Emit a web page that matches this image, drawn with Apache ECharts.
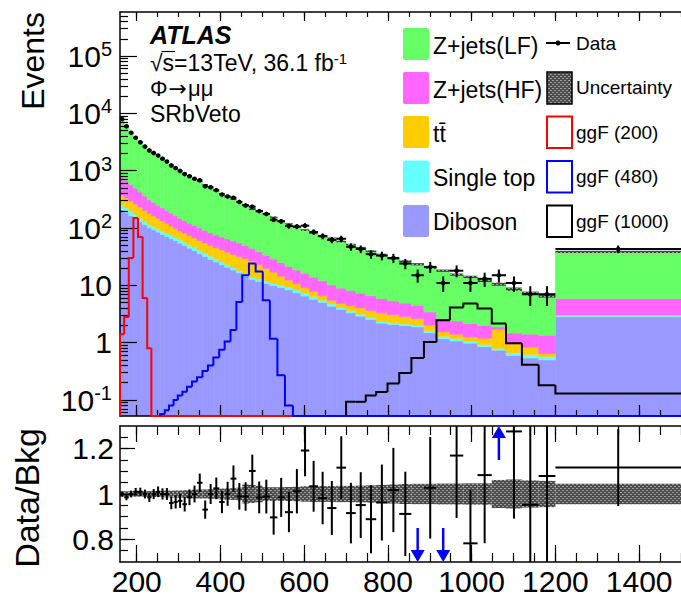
<!DOCTYPE html>
<html><head><meta charset="utf-8">
<script src="https://cdn.jsdelivr.net/npm/echarts@6.0.0/dist/echarts.min.js"></script>
<style>html,body{margin:0;padding:0;background:#fff;}#chart{width:681px;height:596px;}</style>
</head><body><div id="chart"></div>
<script>
// ---------------- data ----------------
const binEdges = [160,170,181,192,203,214,225,235,246,256,267,277,288,298,309,320,332,344,357,370,383,397,410,424,438,452,468,484,501,518,536,554,573,592,612,633,655,677,700,723,747,772,799,827,856,886,916,948,980,1014,1048,1082,1120,1160,1200,1500];
const diboson = [207,185,163,145,128,114,100,92.3,84.5,77.4,71,65,59.6,54.5,49.3,44.5,40,35.6,31.7,28.3,25.5,22.9,20.7,18.5,16.6,14.4,12.7,11.7,10.8,9.9,9.1,8.3,7.4,6.5,5.7,5.0,4.3,3.78,3.31,2.9,2.53,2.19,2.08,1.98,1.88,1.49,1.17,1.07,0.98,0.85,0.74,0.60,0.54,0.50,2.82];
const singleTop = [47,38,33,27,22,18,15,14,12.5,11.5,10.5,9.6,8.8,8,7.3,6.5,5.8,5.4,4.7,4.1,3.4,2.9,2.3,2.0,1.6,1.4,1.3,1.2,1.1,1.1,1.0,1.0,0.9,0.8,0.7,0.5,0.45,0.35,0.29,0.24,0.19,0.15,0.15,0.14,0.14,0.13,0.12,0.11,0.09,0.08,0.05,0.07,0.08,0.075,0.13];
const ttbar = [122,111,98,88,80,71,63,56,50,43,38.5,33.4,29.6,26,24.4,22.8,21.2,19.5,18.2,16.9,16.3,15.6,14.9,14.1,13.4,13.6,12.5,10.1,7.9,6.0,4.4,3.1,2.3,1.8,1.4,1.1,0.75,0.7,0.82,0.89,0.94,0.97,0.84,0.72,0.61,0.41,0.26,0.22,0.19,0.27,0.91,0.28,0.21,0.07,0.10];
const zjetsHF = [400,336,281,233,193,160,131,118,104,93,83,74,65,58.5,53,48.2,44,39.5,36,32.7,30.7,28.6,26.8,25,23.4,20.3,17.7,15.5,13.7,12,10.5,9,7.9,7.0,6.1,5.4,4.7,4.1,3.7,3.28,2.92,2.58,2.31,2.07,1.84,1.41,1.08,0.99,0.90,0.80,0.18,0.52,0.58,0.70,2.84];
const zjetsLF = [7167,5356,3996,3222,2667,2267,1982,1762,1569,1397,1242,1106,985,876,778,691,613,546,484,431,371,328,290,256,233,201,170,161.5,144.5,126,108,96,86.2,76.2,68.3,61.3,55.9,49.3,43.2,37.9,32.8,28.4,24.1,21.4,18.9,17,15.4,13.0,11.9,10.0,8.6,7.15,5.94,5.14,32.6];
const dataEvents = [7940,5936,4571,3752,3121,2630,2257,2042,1838,1622,1445,1237,1108,992,871,801,724,678,535,513,458,384,355,337,285,248,236,197,176,139,131,108,106,110,85,72,62,65,47,43,35,33,30,24,15,21,11,18,11,13,15,11,7,7,43];
const bkgRelUnc = [0.012,0.012,0.012,0.012,0.012,0.012,0.013,0.013,0.013,0.014,0.015,0.015,0.016,0.016,0.017,0.018,0.019,0.02,0.02,0.021,0.022,0.024,0.025,0.026,0.028,0.042,0.04,0.036,0.03,0.03,0.03,0.031,0.032,0.034,0.035,0.035,0.035,0.036,0.036,0.037,0.038,0.04,0.042,0.044,0.045,0.045,0.046,0.046,0.047,0.047,0.062,0.064,0.06,0.058,0.045];
const ggF200 = [1.4,2.8,30,150,70,6,0.8,0,0,0,0,0,0,0,0,0,0,0,0,0,0,0,0,0,0,0,0,0,0,0,0,0,0,0,0,0,0,0,0,0,0,0,0,0,0,0,0,0,0,0,0,0,0,0,0];
const ggF480 = [0,0,0,0,0,0,0,0,0,0.057,0.066,0.08,0.10,0.12,0.14,0.17,0.21,0.25,0.32,0.40,0.55,0.75,1.05,1.66,5.1,15,24,17.5,5.5,1.17,0.27,0.08,0,0,0,0,0,0,0,0,0,0,0,0,0,0,0,0,0,0,0,0,0,0,0];
const ggF1000 = [0,0,0,0,0,0,0,0,0,0,0,0,0,0,0,0,0,0,0,0,0,0,0,0,0,0,0,0,0,0,0,0,0,0,0,0,0,0,0.093,0.093,0.12,0.138,0.195,0.295,0.54,1.03,2.45,4.1,4.8,3.96,2.16,0.98,0.41,0.18,0.13];
const xMajorTicks = [200,400,600,800,1000,1200,1400];
const yMajorTicks = [0.1,1,10,100,1000,10000,100000];
const ratioMajorTicks = [0.8,1,1.2];
const ratioMinorTicks = [0.75,0.8,0.85,0.9,0.95,1,1.05,1.1,1.15,1.2,1.25];

// ---------------- setup ----------------
const FONT = '"Liberation Sans", Arial, Helvetica, sans-serif';
const nBins = binEdges.length - 1;
const yMin = 0.0526, yMax = 5.86e5, rMin = 0.7, rMax = 1.3;
const xMinorTicks = []; for (let v = 200; v <= 1500; v += 50) xMinorTicks.push(v);
const yMinorTicks = [];
for (let e = -2; e <= 5; e++) for (let k = 2; k <= 9; k++) { const v = k * Math.pow(10, e); if (v > yMin && v < yMax) yMinorTicks.push(+v.toPrecision(3)); }

function makeHatch() {
  const c = document.createElement('canvas'); c.width = 4; c.height = 4;
  const g = c.getContext('2d');
  g.fillStyle = 'rgba(25,25,25,0.78)'; g.fillRect(0, 0, 4, 4);
  g.fillStyle = 'rgba(175,175,175,0.85)'; g.fillRect(0, 0, 2, 1); g.fillRect(2, 2, 2, 1);
  return { image: c.toDataURL(), imageWidth: 4, imageHeight: 4, repeat: 'repeat' };
}
const hatch = makeHatch();

const layers = [
  { vals: diboson, color: '#9999ff' },
  { vals: singleTop, color: '#66ffff' },
  { vals: ttbar, color: '#ffcc00' },
  { vals: zjetsHF, color: '#ff66ff' },
  { vals: zjetsLF, color: '#66ff66' }
];
const totalBkg = new Array(nBins).fill(0);

function rectRender(fill, stroke) {
  return function (params, api) {
    const p0 = api.coord([api.value(0), api.value(3)]);
    const p1 = api.coord([api.value(1), api.value(2)]);
    return { type: 'rect', shape: { x: p0[0], y: p0[1], width: p1[0] - p0[0], height: p1[1] - p0[1] },
      style: { fill: fill, stroke: stroke || null, lineWidth: stroke ? 0.6 : 0 } };
  };
}

const series = [];
layers.forEach(l => {
  const items = [];
  for (let i = 0; i < nBins; i++) {
    const base = totalBkg[i];
    totalBkg[i] += l.vals[i];
    items.push([binEdges[i], binEdges[i + 1], Math.max(base, yMin), totalBkg[i]]);
  }
  series.push({ type: 'custom', xAxisIndex: 0, yAxisIndex: 0, z: 2, silent: true, data: items, renderItem: rectRender(l.color, l.color) });
});

// uncertainty band (top)
const bandTop = [], bandRatio = [];
for (let i = 0; i < nBins; i++) {
  const t = totalBkg[i], u = bkgRelUnc[i];
  bandTop.push([binEdges[i], binEdges[i + 1], t * (1 - u), t * (1 + u)]);
  bandRatio.push([binEdges[i], binEdges[i + 1], 1 - u, 1 + u]);
}
series.push({ type: 'custom', xAxisIndex: 0, yAxisIndex: 0, z: 3, silent: true, data: bandTop, renderItem: rectRender(hatch) });

// signals
function signalSeries(vals, color) {
  const items = [];
  let first = vals.findIndex(v => v > 0);
  let prev = yMin;
  for (let i = first; i < nBins; i++) {
    const v = Math.max(vals[i], yMin);
    items.push([binEdges[i], binEdges[i + 1], v, prev]);
    prev = v;
  }
  return { type: 'custom', xAxisIndex: 0, yAxisIndex: 0, z: 12, silent: true, data: items,
    renderItem: function (params, api) {
      const a = api.coord([api.value(0), api.value(3)]);
      const b = api.coord([api.value(0), api.value(2)]);
      const c = api.coord([api.value(1), api.value(2)]);
      return { type: 'polyline', shape: { points: [a, b, c] }, style: { stroke: color, lineWidth: 2, fill: null } };
    } };
}
series.push(signalSeries(ggF1000, '#000000'));
series.push(signalSeries(ggF200, '#ff0000'));
series.push(signalSeries(ggF480, '#0000ff'));

// data points (top)
const dataItems = [];
for (let i = 0; i < nBins; i++) dataItems.push([(binEdges[i] + binEdges[i + 1]) / 2, dataEvents[i], binEdges[i], binEdges[i + 1]]);
series.push({ type: 'custom', xAxisIndex: 0, yAxisIndex: 0, z: 13, silent: true, data: dataItems,
  renderItem: function (params, api) {
    const x = api.value(0), n = api.value(1), e = Math.sqrt(n);
    const c = api.coord([x, n]);
    const l = api.coord([api.value(2), n]), h = api.coord([api.value(3), n]);
    const t = api.coord([x, Math.min(n + e, yMax)]), b = api.coord([x, Math.max(n - e, yMin)]);
    return { type: 'group', children: [
      { type: 'line', shape: { x1: l[0], y1: c[1], x2: h[0], y2: c[1] }, style: { stroke: '#000', lineWidth: 2 } },
      { type: 'line', shape: { x1: c[0], y1: t[1], x2: c[0], y2: b[1] }, style: { stroke: '#000', lineWidth: 2 } },
      { type: 'circle', shape: { cx: c[0], cy: c[1], r: 2.3 }, style: { fill: '#000' } }
    ] };
  } });

// ratio panel
series.push({ type: 'custom', xAxisIndex: 4, yAxisIndex: 2, z: 3, silent: true, data: bandRatio, renderItem: rectRender(hatch) });
const ratioItems = [];
for (let i = 0; i < nBins; i++) {
  const n = dataEvents[i], t = totalBkg[i];
  ratioItems.push([(binEdges[i] + binEdges[i + 1]) / 2, n / t, Math.sqrt(n) / t, binEdges[i], binEdges[i + 1]]);
}
series.push({ type: 'custom', xAxisIndex: 4, yAxisIndex: 2, z: 13, silent: true, data: ratioItems,
  renderItem: function (params, api) {
    const x = api.value(0), r = api.value(1), e = api.value(2);
    if (r > rMax || r < rMin) {
      const up = r > rMax;
      const tip = api.coord([x, up ? rMax : rMin]);
      const tail = api.coord([x, up ? 1.15 : 0.85]);
      const dir = up ? 1 : -1;
      const hb = tip[1] + dir * 12;
      return { type: 'group', children: [
        { type: 'line', shape: { x1: tail[0], y1: tail[1], x2: tip[0], y2: hb }, style: { stroke: '#0000ff', lineWidth: 2.5 } },
        { type: 'polygon', shape: { points: [[tip[0], tip[1]], [tip[0] - 7, hb], [tip[0] + 7, hb]] }, style: { fill: '#0000ff' } }
      ] };
    }
    const c = api.coord([x, r]);
    const l = api.coord([api.value(3), r]), h = api.coord([api.value(4), r]);
    const t = api.coord([x, Math.min(r + e, rMax)]), b = api.coord([x, Math.max(r - e, rMin)]);
    return { type: 'group', children: [
      { type: 'line', shape: { x1: l[0], y1: c[1], x2: h[0], y2: c[1] }, style: { stroke: '#000', lineWidth: 2 } },
      { type: 'line', shape: { x1: c[0], y1: t[1], x2: c[0], y2: b[1] }, style: { stroke: '#000', lineWidth: 2 } }
    ] };
  } });

// ---------------- axes ----------------
function mkX(grid, pos, ticks, len, labels, minor) {
  return { type: 'value', gridIndex: grid, position: pos, min: 160, max: 1500, z: 10,
    axisLine: { show: !minor, onZero: false, lineStyle: { color: '#000', width: 1.5 } },
    axisTick: { show: true, inside: true, length: len, customValues: ticks, lineStyle: { color: '#000', width: 1.2 } },
    axisLabel: { show: labels, customValues: xMajorTicks, margin: 4, fontSize: 30, fontFamily: FONT, color: '#000', formatter: v => String(Math.round(v)) },
    splitLine: { show: false } };
}
function fmtLog(v) {
  const e = Math.round(Math.log10(v));
  if (e === 0) return '{b|1}';
  if (e === 1) return '{b|10}';
  return '{b|10}{s|' + e + '}';
}
const xAxes = [
  mkX(0, 'bottom', xMajorTicks, 11, false, false), mkX(0, 'bottom', xMinorTicks, 6, false, true),
  mkX(0, 'top', xMajorTicks, 9, false, false), mkX(0, 'top', xMinorTicks, 5, false, true),
  mkX(1, 'bottom', xMajorTicks, 17, true, false), mkX(1, 'bottom', xMinorTicks, 9, false, true),
  mkX(1, 'top', xMajorTicks, 16, false, false), mkX(1, 'top', xMinorTicks, 9, false, true)
];
const yAxes = [
  { type: 'log', logBase: 10, gridIndex: 0, position: 'left', min: yMin, max: yMax, z: 10,
    axisLine: { show: true, onZero: false, lineStyle: { color: '#000', width: 1.5 } },
    axisTick: { inside: true, length: 17, customValues: yMajorTicks, lineStyle: { color: '#000', width: 1.2 } },
    axisLabel: { customValues: yMajorTicks, formatter: fmtLog, margin: 8,
      rich: { b: { fontSize: 30, fontFamily: FONT, color: '#000', lineHeight: 34 }, s: { fontSize: 20, fontFamily: FONT, color: '#000', verticalAlign: 'top', lineHeight: 20 } } },
    splitLine: { show: false } },
  { type: 'log', logBase: 10, gridIndex: 0, position: 'left', min: yMin, max: yMax, z: 10,
    axisLine: { show: false, onZero: false },
    axisTick: { inside: true, length: 8, customValues: yMinorTicks, lineStyle: { color: '#000', width: 1.2 } },
    axisLabel: { show: false }, splitLine: { show: false } },
  { type: 'value', gridIndex: 1, position: 'left', min: rMin, max: rMax, z: 10,
    axisLine: { show: true, onZero: false, lineStyle: { color: '#000', width: 1.5 } },
    axisTick: { inside: true, length: 15, customValues: ratioMajorTicks, lineStyle: { color: '#000', width: 1.2 } },
    axisLabel: { customValues: ratioMajorTicks, margin: 6, fontSize: 30, fontFamily: FONT, color: '#000', formatter: v => (Math.abs(v - 1) < 1e-9 ? '1' : String(+v.toFixed(1))) },
    splitLine: { show: false } },
  { type: 'value', gridIndex: 1, position: 'left', min: rMin, max: rMax, z: 10,
    axisLine: { show: false, onZero: false },
    axisTick: { inside: true, length: 8, customValues: ratioMinorTicks, lineStyle: { color: '#000', width: 1.2 } },
    axisLabel: { show: false }, splitLine: { show: false } }
];

// ---------------- texts and legend ----------------
const T = (x, y, text, size, extra) => Object.assign({ type: 'text', x: x, y: y, z: 20, silent: true,
  style: Object.assign({ text: text, font: size + 'px ' + FONT, fill: '#000', verticalAlign: 'middle', align: 'left' }, extra || {}) });
const graphic = [
  T(33, 12, 'Events', 32, { align: 'right' }),
  T(27, 428, 'Data/Bkg', 34, { align: 'right' }),
  { type: 'text', x: 150, y: 35, z: 20, style: { text: 'ATLAS', font: 'italic bold 25px ' + FONT, fill: '#000', verticalAlign: 'middle' } },
  { type: 'text', x: 150, y: 63, z: 20, style: { text: '{a|√s=13TeV, 36.1 fb}{s|-1}', verticalAlign: 'middle',
      rich: { a: { fontSize: 23, fontFamily: FONT, color: '#000', lineHeight: 24 }, s: { fontSize: 15, fontFamily: FONT, color: '#000', verticalAlign: 'top', lineHeight: 15 } } } },
  { type: 'line', z: 20, shape: { x1: 161.5, y1: 51.5, x2: 175, y2: 51.5 }, style: { stroke: '#000', lineWidth: 1.2 } },
  { type: 'text', x: 150, y: 88, z: 20, style: { text: '{p|Φ}{a|→}{p|μμ}', verticalAlign: 'middle',
      rich: { p: { fontSize: 22, fontFamily: FONT, color: '#000', lineHeight: 20 }, a: { fontSize: 22, fontFamily: '"DejaVu Sans", sans-serif', color: '#000', lineHeight: 20, padding: [0, 1, 0, 1] } } } },
  T(150, 114, 'SRbVeto', 23),
  // left legend column
  { type: 'rect', z: 20, shape: { x: 403, y: 28, width: 26, height: 32, r: 2 }, style: { fill: '#66ff66' } },
  { type: 'rect', z: 20, shape: { x: 403, y: 72, width: 26, height: 32, r: 2 }, style: { fill: '#ff66ff' } },
  { type: 'rect', z: 20, shape: { x: 403, y: 116, width: 26, height: 32, r: 2 }, style: { fill: '#ffcc00' } },
  { type: 'rect', z: 20, shape: { x: 403, y: 160.5, width: 26, height: 32, r: 2 }, style: { fill: '#66ffff' } },
  { type: 'rect', z: 20, shape: { x: 403, y: 205, width: 26, height: 32, r: 2 }, style: { fill: '#9999ff' } },
  T(433, 46, 'Z+jets(LF)', 23), T(433, 90, 'Z+jets(HF)', 23), T(433, 134, 'tt̄', 23),
  T(433, 178, 'Single top', 23), T(433, 222, 'Diboson', 23),
  // right legend column
  { type: 'line', z: 20, shape: { x1: 546, y1: 43, x2: 570, y2: 43 }, style: { stroke: '#000', lineWidth: 2 } },
  { type: 'circle', z: 20, shape: { cx: 558, cy: 43, r: 2.5 }, style: { fill: '#000' } },
  { type: 'rect', z: 20, shape: { x: 547, y: 72, width: 25, height: 32 }, style: { fill: hatch, stroke: '#000', lineWidth: 1.5 } },
  { type: 'rect', z: 20, shape: { x: 547, y: 116.5, width: 25, height: 31.5 }, style: { fill: '#fff', stroke: '#ff0000', lineWidth: 2 } },
  { type: 'rect', z: 20, shape: { x: 547, y: 161, width: 25, height: 31.5 }, style: { fill: '#fff', stroke: '#0000ff', lineWidth: 2 } },
  { type: 'rect', z: 20, shape: { x: 547, y: 205.5, width: 25, height: 31.5 }, style: { fill: '#fff', stroke: '#000', lineWidth: 2 } },
  T(576, 43, 'Data', 19), T(576, 87, 'Uncertainty', 19), T(576, 132, 'ggF (200)', 19),
  T(576, 176, 'ggF (480)', 19), T(576, 221, 'ggF (1000)', 19)
];
graphic[0].rotation = Math.PI / 2;
graphic[1].rotation = Math.PI / 2;

const chart = echarts.init(document.getElementById('chart'), null, { renderer: 'svg' });
chart.setOption({
  animation: false,
  backgroundColor: '#ffffff',
  grid: [
    { left: 120, top: 12, width: 564, height: 404, show: false },
    { left: 120, top: 426, width: 564, height: 139, show: false }
  ],
  xAxis: xAxes,
  yAxis: yAxes,
  series: series,
  graphic: graphic
});
</script></body></html>
